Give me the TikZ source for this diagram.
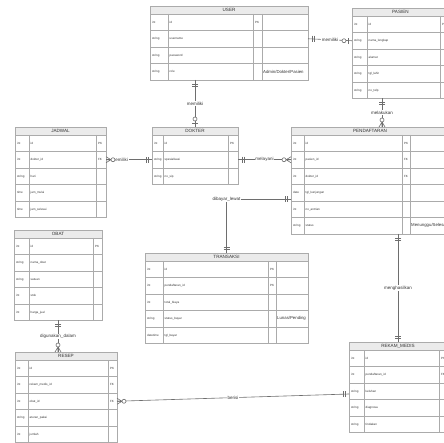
\documentclass[tikz,border=0pt]{standalone}
\usepackage{fontspec}
\setmainfont{Liberation Sans}
\usetikzlibrary{calc}
\definecolor{bordc}{HTML}{ABABAB}
\definecolor{hdrc}{HTML}{EBEBEB}
\definecolor{linec}{HTML}{6E6E6E}
\definecolor{txtc}{HTML}{333333}
\tikzset{
  tabbox/.style={draw=bordc, fill=white, line width=0.5pt, inner sep=0pt, outer sep=0pt},
  hdrbox/.style={draw=bordc, fill=hdrc, line width=0.5pt, inner sep=0pt, outer sep=0pt, font=\fontsize{4.6}{5}\selectfont, text=txtc},
  rowbox/.style={draw=bordc, line width=0.5pt, inner sep=0pt, outer sep=0pt},
  celltxt/.style={font=\fontsize{3}{3.5}\selectfont, text=txtc, inner sep=0pt, anchor=west},
  extratxt/.style={font=\fontsize{4.3}{5}\selectfont, text=txtc, inner sep=0pt, anchor=west},
  conn/.style={draw=linec, line width=0.6pt},
  rel/.style={font=\fontsize{4.5}{5}\selectfont, text=txtc, fill=white, inner sep=0.6pt},
  oneone/.pic={\draw[conn] (4,-3)--(4,3) (6,-3)--(6,3);},
  zeroone/.pic={\draw[conn] (4,-3)--(4,3); \draw[conn, fill=white] (8,0) circle[radius=2];},
  zeromany/.pic={\draw[conn] (0,-3)--(5,0)--(0,3) (0,0)--(5,0); \draw[conn, fill=white] (7,0) circle[radius=2];}
}
% #1 name, #2 x,y, #3-#6 column widths, #7 rows, #8 title, #9 row data
\newcommand{\ertab}[9]{%
  \begin{scope}[shift={(#2)}]
    \pgfmathsetmacro{\tw}{#3+#4+#5+#6}
    \pgfmathsetmacro{\th}{8+16.5*#7}
    \node[tabbox, minimum width=\tw pt, minimum height=\th pt, anchor=north west] (#1) at (0,0) {};
    \foreach[count=\i] \ta/\tb/\tc/\td in {#9}{
      \pgfmathsetmacro{\ry}{8+16.5*(\i-1)}
      \pgfmathsetmacro{\cy}{\ry+8.25}
      \node[rowbox, minimum width=\tw pt, minimum height=16.5pt, anchor=north west] (#1-r\i) at (0,\ry) {};
      \node[celltxt] (#1-a\i) at (2,\cy) {\ta};
      \node[celltxt] (#1-b\i) at (#3+1.5,\cy) {\tb};
      \node[celltxt] (#1-c\i) at (#3+#4+1.8,\cy) {\tc};
      \node[extratxt] (#1-d\i) at (#3+#4+#5+1,\cy) {\td};
    }
    \node[hdrbox, minimum width=\tw pt, minimum height=8pt, anchor=north west] (#1-h) at (0,0) {#8};
    \draw[draw=bordc, line width=0.5pt] (#3,8) -- (#3,\th) (#3+#4,8) -- (#3+#4,\th) (#3+#4+#5,8) -- (#3+#4+#5,\th);
  \end{scope}}
\begin{document}
\begin{tikzpicture}[x=1pt, y=-1pt]
\useasboundingbox (0,0) rectangle (444,443);
\clip (0,0) rectangle (444,443);
\fill[white] (0,0) rectangle (444,443);

\ertab{user}{150,6}{18}{85}{9}{46}{4}{USER}{int/id/PK/{}, string/username/{}/{}, string/password/{}/{}, string/role/{}/{Admin\slash Dokter\slash Pasien}}
\ertab{pasien}{352,8}{15}{73}{9}{0}{5}{PASIEN}{int/id/PK/{}, string/nama\_lengkap/{}/{}, string/alamat/{}/{}, string/tgl\_lahir/{}/{}, string/no\_telp/{}/{}}
\ertab{jadwal}{15,127}{14}{67}{10}{0}{5}{JADWAL}{int/id/PK/{}, int/dokter\_id/FK/{}, string/hari/{}/{}, time/jam\_mulai/{}/{}, time/jam\_selesai/{}/{}}
\ertab{dokter}{152,127}{11}{65}{10}{0}{3}{DOKTER}{int/id/PK/{}, string/spesialisasi/{}/{}, string/no\_sip/{}/{}}
\ertab{pendaftaran}{291,127}{13}{98}{8}{39}{6}{PENDAFTARAN}{int/id/PK/{}, int/pasien\_id/FK/{}, int/dokter\_id/FK/{}, date/tgl\_kunjungan/{}/{}, int/no\_antrian/{}/{}, string/status/{}/{Menunggu\slash Selesai}}
\ertab{transaksi}{145,253}{18}{105}{8}{32}{5}{TRANSAKSI}{int/id/PK/{}, int/pendaftaran\_id/PK/{}, int/total\_biaya/{}/{}, string/status\_bayar/{}/{Lunas\slash Pending}, datetime/tgl\_bayar/{}/{}}
\ertab{obat}{14,230}{15}{64}{9}{0}{5}{OBAT}{int/id/PK/{}, string/nama\_obat/{}/{}, string/satuan/{}/{}, int/stok/{}/{}, int/harga\_jual/{}/{}}
\ertab{resep}{15,352}{13}{80}{9}{0}{5}{RESEP}{int/id/PK/{}, int/rekam\_medis\_id/FK/{}, int/obat\_id/FK/{}, string/aturan\_pakai/{}/{}, int/jumlah/{}/{}}
\ertab{rekam}{349,342}{15}{75}{8}{0}{5}{REKAM\_MEDIS}{int/id/PK/{}, int/pendaftaran\_id/FK/{}, string/keluhan/{}/{}, string/diagnosa/{}/{}, string/tindakan/{}/{}}

% USER - PASIEN
\draw[conn] (user-r2.east) -- node[rel] (l1) {memiliki} (pasien-r2.west);
\pic at (user-r2.east) {oneone};
\pic[rotate=180] at (pasien-r2.west) {zeroone};
% USER - DOKTER
\coordinate (ud) at (user.south -| dokter.north);
\draw[conn] (ud) -- node[rel] (l2) {memiliki} (dokter.north);
\pic[rotate=-90] at (ud) {oneone};
\pic[rotate=90] at (dokter.north) {zeroone};
% JADWAL - DOKTER
\draw[conn] (jadwal-r2.east) -- node[rel, pos=0.3] (l3) {memiliki} (dokter-r2.west);
\pic at (jadwal-r2.east) {zeromany};
\pic[rotate=180] at (dokter-r2.west) {oneone};
% DOKTER - PENDAFTARAN
\draw[conn] (dokter-r2.east) -- node[rel] (l4) {melayani} (pendaftaran-r2.west);
\pic at (dokter-r2.east) {oneone};
\pic[rotate=180] at (pendaftaran-r2.west) {zeromany};
% PASIEN - PENDAFTARAN
\coordinate (pp) at ($(pasien.south west)+(30,0)$);
\coordinate (pp2) at (pp |- pendaftaran.north);
\draw[conn] (pp) -- node[rel] (l5) {melakukan} (pp2);
\pic[rotate=-90] at (pp) {oneone};
\pic[rotate=90] at (pp2) {zeromany};
% PENDAFTARAN - TRANSAKSI
\coordinate (pt) at ($(pendaftaran.north west)+(0,72)$);
\draw[conn] (pt) -| node[rel, pos=0.5] (l6) {dibayar\_lewat} (transaksi.north);
\pic[rotate=180] at (pt) {oneone};
\pic[rotate=90] at (transaksi.north) {oneone};
% PENDAFTARAN - REKAM_MEDIS
\coordinate (pr) at (rekam.north |- pendaftaran.south);
\draw[conn] (pr) -- node[rel] (l7) {menghasilkan} (rekam.north);
\pic[rotate=-90] at (pr) {oneone};
\pic[rotate=90] at (rekam.north) {oneone};
% OBAT - RESEP
\coordinate (or) at (obat.south |- resep.north);
\draw[conn] (obat.south) -- node[rel] (l8) {digunakan\_dalam} (or);
\pic[rotate=-90] at (obat.south) {oneone};
\pic[rotate=90] at (or) {zeromany};
% RESEP - REKAM_MEDIS
\coordinate (rk) at ($(rekam.north west)+(0,52)$);
\draw[conn] (resep-r3.east) -- node[rel] (l9) {berisi} (rk);
\pic at (resep-r3.east) {zeromany};
\pic[rotate=180] at (rk) {oneone};
\end{tikzpicture}
\end{document}
